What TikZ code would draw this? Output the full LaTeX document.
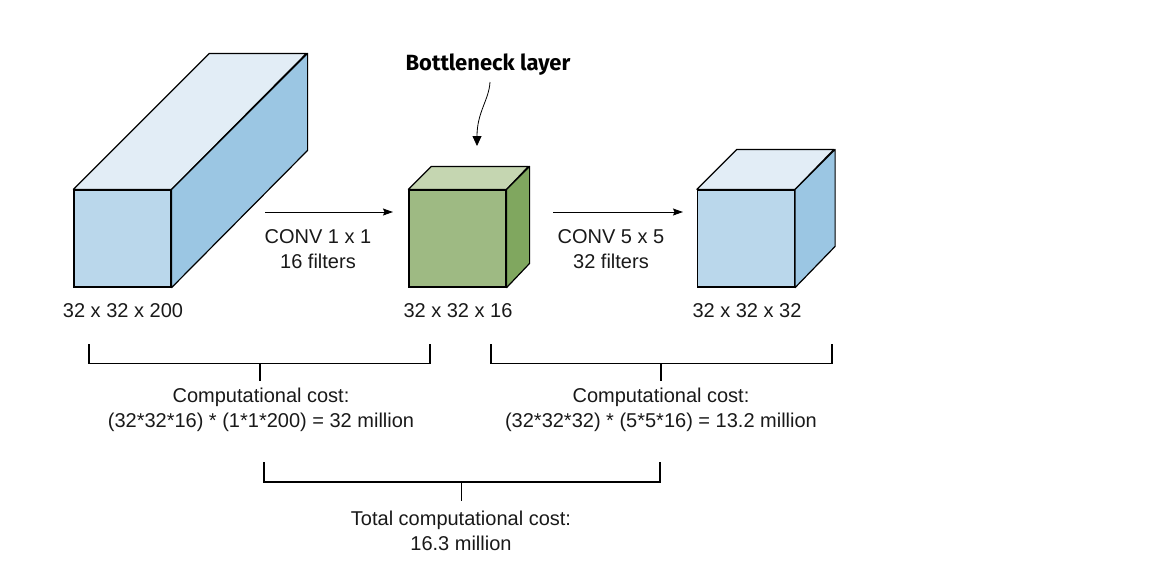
\documentclass[tikz,border=0pt]{standalone}
\usepackage{fontspec}
\setmainfont{Liberation Sans}
\newfontfamily\headfont{Fira Sans}
\usetikzlibrary{arrows.meta}
\definecolor{bluefront}{HTML}{BAD7EB}
\definecolor{bluetop}{HTML}{E2EDF6}
\definecolor{blueside}{HTML}{9BC6E3}
\definecolor{greenfront}{HTML}{9EBA83}
\definecolor{greentop}{HTML}{C5D6B1}
\definecolor{greenside}{HTML}{80A75F}

\begin{document}
\begin{tikzpicture}[
  x=1pt, y=-1pt,
  face/.style={draw=black, line width=1.2pt, minimum width=97pt,
               minimum height=97pt, inner sep=0pt},
  lbl/.style={font=\fontsize{20}{25}\selectfont, align=center,
              text=black!90, inner sep=0pt},
  conv/.style={-{Stealth[length=10pt, width=7pt, inset=1.5pt]}, line width=1pt},
  brace/.style={line width=1.2pt, line cap=rect},
]
\useasboundingbox (0,0) rectangle (1164,566);

% cubes: name / centre x / depth / colour
\foreach \c/\x/\d/\col in {in/122.5/136/blue, neck/457.5/23/green, out/746/40/blue}{
  \node[face, fill=\col front] (\c) at (\x,238.5) {};
  \filldraw[fill=\col top, line width=1.2pt, line join=round]
    (\c.north west) -- ++(\d,-\d) -- ++(97,0) -- (\c.north east) -- cycle;
  \filldraw[fill=\col side, line width=1.2pt, line join=round]
    (\c.north east) -- ++(\d,-\d) -- ++(0,97) -- (\c.south east) -- cycle;
}

\node[lbl] (inlbl) at (123,311) {32 x 32 x 200};
\node[lbl] (necklbl) at (458,311) {32 x 32 x 16};
\node[lbl] (outlbl) at (747,311) {32 x 32 x 32};

% convolutions
\coordinate (a1) at (265,212); \coordinate (a2) at (393,212);
\coordinate (b1) at (553,212); \coordinate (b2) at (683,212);
\draw[conv] (a1) -- (a2);
\draw[conv] (b1) -- (b2);
\node[lbl] (conv1) at (318,249.5) {CONV 1 x 1\\16 filters};
\node[lbl] (conv5) at (611,249.5) {CONV 5 x 5\\32 filters};

% bottleneck callout
\node[font=\headfont\bfseries\fontsize{22}{26}\selectfont, inner sep=0pt]
  (bn) at (488,65) {Bottleneck layer};
\draw[-{Triangle[length=10pt, width=9pt]}, line width=0.8pt]
  (490,82) .. controls (489,100) and (477,112) .. (477,146);

% brackets
\draw[brace] (89,345) -- (89,363.5) -- (430,363.5) -- (430,345);
\draw[brace] (260,363.5) -- (260,380);
\draw[brace] (491,345) -- (491,363.5) -- (832,363.5) -- (832,345);
\draw[brace] (661,363.5) -- (661,380);
\draw[brace] (264,463) -- (264,482) -- (660,482) -- (660,463);
\draw[brace] (461.5,482) -- (461.5,500);

\node[lbl] (cost1) at (261,410)
  {Computational cost:\\(32*32*16) * (1*1*200) = 32 million};
\node[lbl] (cost2) at (661,410)
  {Computational cost:\\(32*32*32) * (5*5*16) = 13.2 million};
\node[lbl] (total) at (461,530.5) {Total computational cost:\\16.3 million};

\end{tikzpicture}
\end{document}
